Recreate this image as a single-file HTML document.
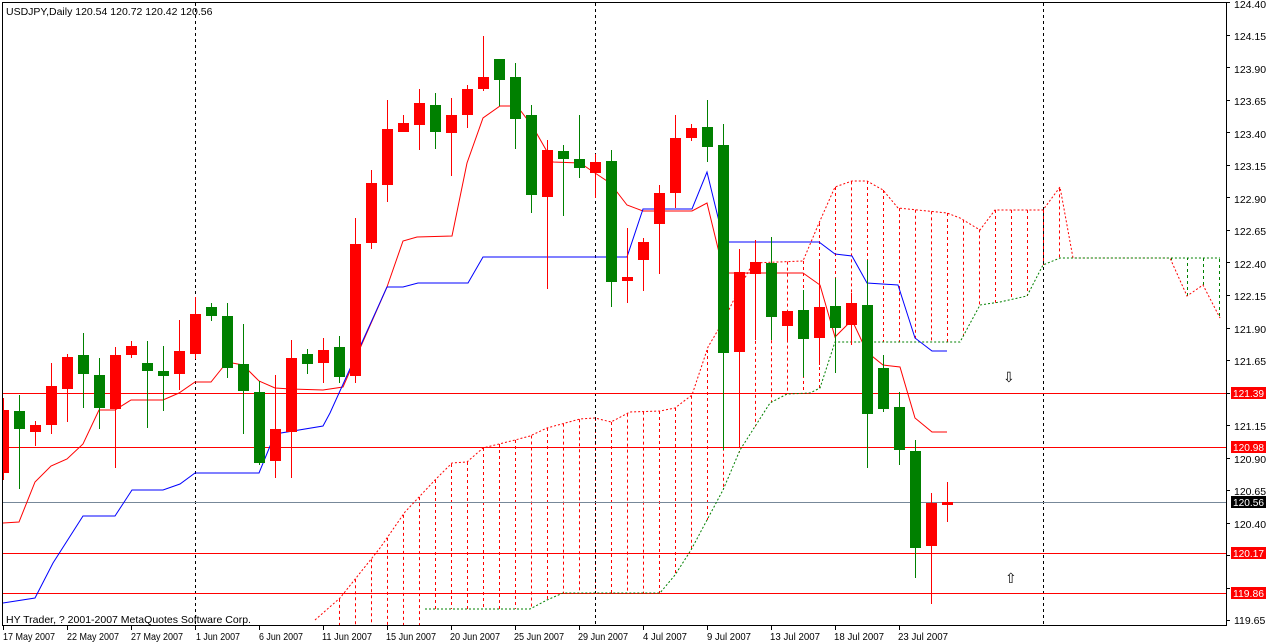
<!DOCTYPE html>
<html><head><meta charset="utf-8"><style>
body{margin:0;background:#fff;width:1266px;height:644px;overflow:hidden}
svg{display:block;font-family:"Liberation Sans",sans-serif;font-size:11px}
</style></head><body>
<svg id="s" width="1266" height="644" xmlns="http://www.w3.org/2000/svg">
<rect x="0" y="0" width="1266" height="644" fill="#fff"/>
<g id="g"></g>
<g id="hl" shape-rendering="crispEdges">
<line x1="3" y1="393.5" x2="1226" y2="393.5" stroke="red" stroke-width="1.2"/>
<line x1="3" y1="447.5" x2="1226" y2="447.5" stroke="red" stroke-width="1.2"/>
<line x1="3" y1="553.5" x2="1226" y2="553.5" stroke="red" stroke-width="1.2"/>
<line x1="3" y1="593.5" x2="1226" y2="593.5" stroke="red" stroke-width="1.2"/>
<line x1="3" y1="502.5" x2="1226" y2="502.5" stroke="#778899" stroke-width="1"/>
</g>
<g id="g2"></g>
<rect x="2.5" y="2.5" width="1224" height="623" fill="none" stroke="#000"/>
<text x="6" y="15" font-size="10.5">USDJPY,Daily  120.54 120.72 120.42 120.56</text>
<text x="6" y="623" font-size="10.5">HY Trader, ? 2001-2007 MetaQuotes Software Corp.</text>
<text x="1003" y="382" font-size="14">⇩</text>
<text x="1005" y="583" font-size="14">⇧</text>
<g id="ax" font-size="10.5"></g>
<g font-size="10.5">
<text x="3" y="640" textLength="52" lengthAdjust="spacingAndGlyphs">17 May 2007</text><text x="67" y="640" textLength="52" lengthAdjust="spacingAndGlyphs">22 May 2007</text><text x="131" y="640" textLength="52" lengthAdjust="spacingAndGlyphs">27 May 2007</text>
<text x="196" y="640" textLength="44" lengthAdjust="spacingAndGlyphs">1 Jun 2007</text><text x="259" y="640" textLength="44" lengthAdjust="spacingAndGlyphs">6 Jun 2007</text><text x="322" y="640" textLength="50" lengthAdjust="spacingAndGlyphs">11 Jun 2007</text>
<text x="386" y="640" textLength="50" lengthAdjust="spacingAndGlyphs">15 Jun 2007</text><text x="450" y="640" textLength="50" lengthAdjust="spacingAndGlyphs">20 Jun 2007</text><text x="514" y="640" textLength="50" lengthAdjust="spacingAndGlyphs">25 Jun 2007</text>
<text x="578" y="640" textLength="50" lengthAdjust="spacingAndGlyphs">29 Jun 2007</text><text x="643" y="640" textLength="44" lengthAdjust="spacingAndGlyphs">4 Jul 2007</text><text x="707" y="640" textLength="44" lengthAdjust="spacingAndGlyphs">9 Jul 2007</text>
<text x="770" y="640" textLength="50" lengthAdjust="spacingAndGlyphs">13 Jul 2007</text><text x="834" y="640" textLength="50" lengthAdjust="spacingAndGlyphs">18 Jul 2007</text><text x="898" y="640" textLength="50" lengthAdjust="spacingAndGlyphs">23 Jul 2007</text>
</g>
<g font-size="10.5">
<text x="1234" y="8">124.40</text><text x="1234" y="40">124.15</text><text x="1234" y="73">123.90</text>
<text x="1234" y="105">123.65</text><text x="1234" y="138">123.40</text><text x="1234" y="170">123.15</text>
<text x="1234" y="203">122.90</text><text x="1234" y="235">122.65</text><text x="1234" y="268">122.40</text>
<text x="1234" y="300">122.15</text><text x="1234" y="333">121.90</text><text x="1234" y="365">121.65</text>
<text x="1234" y="430">121.15</text><text x="1234" y="463">120.90</text><text x="1234" y="495">120.65</text>
<text x="1234" y="528">120.40</text><text x="1234" y="624">119.65</text>
<rect x="1231" y="387" width="35" height="12" fill="#f00"/><text x="1233" y="397" fill="#fff" textLength="31" lengthAdjust="spacingAndGlyphs">121.39</text>
<rect x="1231" y="441" width="35" height="12" fill="#f00"/><text x="1233" y="451" fill="#fff" textLength="31" lengthAdjust="spacingAndGlyphs">120.98</text>
<rect x="1231" y="496" width="35" height="12" fill="#000"/><text x="1233" y="506" fill="#fff" textLength="31" lengthAdjust="spacingAndGlyphs">120.56</text>
<rect x="1231" y="547" width="35" height="12" fill="#f00"/><text x="1233" y="557" fill="#fff" textLength="31" lengthAdjust="spacingAndGlyphs">120.17</text>
<rect x="1231" y="587" width="35" height="12" fill="#f00"/><text x="1233" y="597" fill="#fff" textLength="31" lengthAdjust="spacingAndGlyphs">119.86</text>
</g>
</svg>
<script>
var NS="http://www.w3.org/2000/svg",g=document.getElementById('g'),g2=document.getElementById('g2');
function el(t,a,p){var e=document.createElementNS(NS,t);for(var k in a)e.setAttribute(k,a[k]);(p||g2).appendChild(e);return e;}
function pl(pts,c,dash){el('polyline',{points:pts.map(function(p){return p.join(',')}).join(' '),fill:'none',stroke:c,'stroke-width':1,'stroke-dasharray':dash||''});}
function yAt(pts,x){for(var i=0;i<pts.length-1;i++){if(x>=pts[i][0]&&x<=pts[i+1][0]){var t=(x-pts[i][0])/(pts[i+1][0]-pts[i][0]||1);return pts[i][1]+t*(pts[i+1][1]-pts[i][1]);}}return null;}
var A=[[315,620],[340,598],[380,548],[405,512],[435,480],[452,463],[467,462],[483,448],[515,440],[530,436],[547,428],[580,419],[595,418],[611,422],[630,412],[660,411],[675,408],[692,395],[708,347],[724,320],[740,287],[753,263],[803,261],[819,223],[835,187],[852,181],[867,181],[883,190],[898,208],[947,213],[960,218],[980,230],[995,210],[1043,210],[1060,187],[1073,258],[1170,258],[1187,296],[1203,285],[1220,318]];
var B=[[425,609],[530,609],[547,600],[563,593],[660,593],[675,575],[691,550],[707,520],[723,490],[740,450],[770,403],[787,394],[810,393],[820,388],[835,342],[960,342],[980,305],[1000,302],[1027,296],[1043,265],[1060,258],[1220,258]];
for(var x=339;x<=1219;x+=16){var a=yAt(A,x),b=yAt(B,x);if(b===null)b=625;if(a===null)continue;
 el('line',{x1:x+.5,y1:a,x2:x+.5,y2:b,stroke:(a<b?'#f00':'#008000'),'stroke-dasharray':'3,3'},g);}
pl(A,'#f00','2,2');pl(B,'#008000','2,2');
[195,595,1043].forEach(function(x){el('line',{x1:x+.5,y1:3,x2:x+.5,y2:626,stroke:'#000','stroke-dasharray':'3,3'},g);});
pl([[3,523],[19,522],[35,482],[51,466],[67,459],[83,444],[99,410],[115,410],[131,400],[163,400],[179,393],[195,382],[211,382],[227,362],[243,365],[259,381],[275,388],[291,389],[323,390],[343,387],[387,287],[403,241],[417,237],[452,236],[467,163],[483,118],[500,106],[517,106],[533,127],[553,162],[580,163],[595,173],[610,183],[627,205],[643,211],[692,211],[707,203],[724,273],[803,273],[820,285],[835,337],[852,320],[867,352],[883,365],[900,367],[915,418],[932,432],[947,432]],'#f00');
pl([[3,603],[35,598],[53,563],[83,516],[115,516],[132,490],[163,490],[180,484],[195,473],[259,473],[275,434],[323,426],[330,413],[387,287],[403,287],[418,283],[468,283],[483,257],[627,257],[643,209],[692,209],[707,172],[724,242],[819,242],[835,254],[852,256],[867,283],[898,285],[915,338],[932,351],[947,351]],'#0000ff');
var C=[[3,'r',398,480,410,473],[19,'g',395,489,411,429],[35,'r',421,446,425,432],[51,'r',363,434,386,425],[67,'r',354,422,357,389],[83,'g',333,408,355,374],[99,'g',358,429,375,408],[115,'r',347,468,355,409],[131,'r',341,358,346,355],[147,'g',341,428,363,371],[163,'g',346,411,371,376],[179,'r',320,390,351,374],[195,'r',297,359,314,354],[211,'g',303,321,307,316],[227,'g',303,378,316,368],[243,'g',324,434,364,391],[259,'g',381,465,392,463],[275,'r',375,478,429,461],[291,'r',340,478,358,432],[307,'g',349,374,354,364],[323,'r',338,383,350,363],[339,'g',336,383,347,377],[355,'r',218,383,244,376],[371,'r',170,249,183,243],[387,'r',100,202,129,185],[403,'r',115,132,123,132],[419,'r',89,150,103,125],[435,'g',93,149,105,132],[451,'r',98,176,115,133],[467,'r',85,128,89,115],[483,'r',36,91,77,89],[499,'g',59,106,59,80],[515,'g',63,149,77,119],[531,'g',105,213,115,195],[547,'r',140,289,150,197],[563,'g',145,216,151,159],[579,'g',115,178,159,168],[595,'r',154,198,162,173],[611,'g',150,307,161,282],[627,'r',228,303,277,281],[643,'r',238,291,242,260],[659,'r',185,274,193,224],[675,'r',115,208,138,193],[691,'r',124,141,128,138],[707,'g',100,162,127,147],[723,'g',124,450,145,353],[739,'r',249,445,272,352],[755,'r',240,340,262,274],[771,'g',237,340,263,317],[787,'r',311,340,311,326],[803,'g',290,377,310,339],[819,'r',260,365,307,338],[835,'g',278,373,306,328],[851,'r',293,345,303,325],[867,'g',260,468,305,414],[883,'g',355,412,368,409],[899,'g',392,465,407,450],[915,'g',440,578,451,548],[931,'r',493,604,503,546],[947,'r',482,522,502,505]];
C.forEach(function(c){var col=c[1]=='r'?'#f00':'#008000';
 el('line',{x1:c[0]+.5,y1:c[2],x2:c[0]+.5,y2:c[3],stroke:col});
 var l=Math.max(c[0]-5,3);el('rect',{x:l,y:c[4],width:c[0]+6-l,height:Math.max(c[5]-c[4],2),fill:col});});
var ax=document.getElementById('ax');
for(var p=124.40;p>119.6;p-=0.25){var y=Math.round(502-(p-120.56)*130.2)+.5;el('line',{x1:1226,x2:1230,y1:y,y2:y,stroke:'#000'},ax);}
[3,67,131,195,259,323,387,451,515,579,643,707,771,835,899].forEach(function(x){el('line',{x1:x+.5,x2:x+.5,y1:626,y2:630,stroke:'#000'},ax);});
</script>
</body></html>
